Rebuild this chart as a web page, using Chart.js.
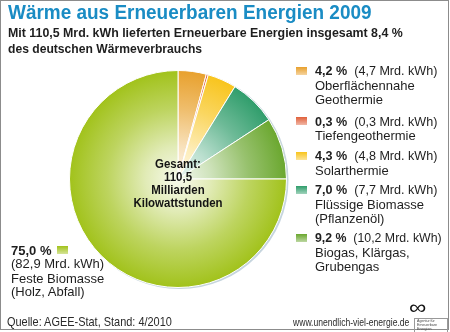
<!DOCTYPE html>
<html lang="de">
<head>
<meta charset="utf-8">
<title>Wärme aus Erneuerbaren Energien 2009</title>
<script src="https://cdn.jsdelivr.net/npm/chart.js@4"></script>
<style>
  body { margin: 0; background: #fff; }
  #wrap { position: relative; width: 450px; height: 332px; overflow: hidden;
          font-family: "Liberation Sans", Arial, sans-serif; color: #1e1e1e; }
  #frame { position: absolute; left: 0; top: 0; width: 447px; height: 328px; border: 1px solid #8c8c8c; }
  #box { position: absolute; left: 0; top: 0; width: 450px; height: 332px; }
  .t { position: absolute; white-space: nowrap; transform-origin: 0 50%; }
  .sq { position: absolute; width: 11px; height: 8px; }
  b { font-weight: bold; }
</style>
</head>
<body>
<div id="wrap">
  <div id="box"><canvas id="pie"></canvas></div>
  <div id="frame"></div>
  <div id="txt"></div>
</div>
<script>
// Anteile am Wärmeverbrauch aus Erneuerbaren 2009 (Prozent und Mrd. kWh)
var shares = [4.2, 0.3, 4.3, 7.0, 9.2, 75.0];
var amounts = [4.7, 0.3, 4.8, 7.7, 10.2, 82.9];
var sources = [
  ["Oberflächennahe", "Geothermie"],
  ["Tiefengeothermie"],
  ["Solarthermie"],
  ["Flüssige Biomasse", "(Pflanzenöl)"],
  ["Biogas, Klärgas,", "Grubengas"],
  ["Feste Biomasse", "(Holz, Abfall)"]
];
var totalLines = ["Gesamt:", "110,5", "Milliarden", "Kilowattstunden"];

var sliceColors = ["#e8a02c", "#e0603a", "#f8c41c", "#2f9d6b", "#6aa72e", "#a1c21a"];

function de(n) { return n.toFixed(1).replace(".", ","); }

function mixWhite(hex, f) {
  var r = parseInt(hex.substr(1, 2), 16), g = parseInt(hex.substr(3, 2), 16), b = parseInt(hex.substr(5, 2), 16);
  r = Math.round(r + (255 - r) * f); g = Math.round(g + (255 - g) * f); b = Math.round(b + (255 - b) * f);
  return "rgb(" + r + "," + g + "," + b + ")";
}

var txt = document.getElementById("txt");

function addText(html, x, cy, size, opts) {
  opts = opts || {};
  var lh = opts.lh || size;
  var el = document.createElement("div");
  el.className = "t";
  el.innerHTML = html;
  el.style.left = x + "px";
  el.style.top = (cy - lh / 2) + "px";
  el.style.fontSize = size + "px";
  el.style.lineHeight = lh + "px";
  if (opts.bold) el.style.fontWeight = "bold";
  if (opts.color) el.style.color = opts.color;
  txt.appendChild(el);
  if (opts.w) el.style.transform = "scaleX(" + (opts.w / el.offsetWidth) + ")";
  return el;
}

function addSquare(i, x, cy) {
  var sq = document.createElement("div");
  sq.className = "sq";
  sq.style.left = x + "px";
  sq.style.top = (cy - 4) + "px";
  sq.style.background = "linear-gradient(to bottom, " + sliceColors[i] + ", " + mixWhite(sliceColors[i], 0.55) + ")";
  txt.appendChild(sq);
}

// Titel und Untertitel
addText("Wärme aus Erneuerbaren Energien 2009", 8, 11.8, 20, { bold: true, color: "#1a8cc4", w: 364 });
addText("Mit 110,5 Mrd. kWh lieferten Erneuerbare Energien insgesamt 8,4 %", 8, 33.6, 12.5, { bold: true, w: 395 });
addText("des deutschen Wärmeverbrauchs", 8, 49.3, 12.5, { bold: true, w: 194 });

// Legende rechts
var entryY = [70.5, 121, 155.5, 189.5, 237.5];
for (var i = 0; i < 5; i++) {
  addSquare(i, 296, entryY[i]);
  addText("<b>" + de(shares[i]) + " %</b>&nbsp; (" + de(amounts[i]) + " Mrd. kWh)", 315, entryY[i], 13, { w: 122 + (amounts[i] >= 10 ? 5 : 0) });
  for (var k = 0; k < sources[i].length; k++) {
    addText(sources[i][k], 315, entryY[i] + 14.5 * (k + 1), 13);
  }
}

// Beschriftung Feste Biomasse links unten
addText(de(shares[5]) + " %", 11, 250.5, 13, { bold: true });
addSquare(5, 57, 249.5);
addText("(" + de(amounts[5]) + " Mrd. kWh)", 11, 263.5, 13);
addText(sources[5][0], 11, 278, 13);
addText(sources[5][1], 11, 291.5, 13);

// Fußzeile
addText("Quelle: AGEE-Stat, Stand: 4/2010", 7, 321.7, 13, { color: "#2a2a2a", w: 165 });
addText("www.unendlich-viel-energie.de", 293, 322.7, 10.5, { color: "#2a2a2a", w: 116 });
addText("∞", 409, 307, 20, { color: "#111", w: 17 });
var logo = addText("Agentur für<br>Erneuerbare<br>Energien", 414, 320, 3.6, { lh: 3.8, color: "#444" });
logo.style.border = "1px solid #999";
logo.style.padding = "1px 10px 1px 2px";

// Gesamtsumme in der Kreismitte
var cx = 178, mid = 184;
var center = document.createElement("div");
center.className = "t";
center.style.left = (cx - 100) + "px";
center.style.width = "200px";
center.style.textAlign = "center";
center.style.fontSize = "13.5px";
center.style.lineHeight = "12.8px";
center.style.fontWeight = "bold";
center.style.color = "#141414";
center.style.top = (mid - 2 * 12.8) + "px";
center.style.transformOrigin = "50% 50%";
center.innerHTML = totalLines.join("<br>");
txt.appendChild(center);
var probe = document.createElement("span");
probe.style.cssText = "position:absolute;visibility:hidden;font:bold 13.5px 'Liberation Sans';white-space:nowrap";
probe.textContent = totalLines[3];
txt.appendChild(probe);
center.style.transform = "scaleX(" + (89 / probe.offsetWidth) + ")";

// leichter Schatten unter dem Kreis
var rimShadow = {
  id: "rimShadow",
  beforeDatasetsDraw: function(chart) {
    var a = chart.chartArea, c = chart.ctx;
    var x = (a.left + a.right) / 2, y = (a.top + a.bottom) / 2, r = Math.min(a.width, a.height) / 2;
    c.save();
    c.beginPath();
    c.arc(x + 1.5, y + 1, r, 0, Math.PI * 2);
    c.fillStyle = "#c6d5de";
    c.fill();
    c.restore();
  }
};

function sliceFill(ctx) {
  var col = sliceColors[ctx.dataIndex];
  var a = ctx.chart.chartArea;
  if (!a) return col;
  var x = (a.left + a.right) / 2, y = (a.top + a.bottom) / 2, r = Math.min(a.width, a.height) / 2;
  var g = ctx.chart.ctx.createRadialGradient(x, y, 0, x, y, r);
  g.addColorStop(0, mixWhite(col, 0.92));
  g.addColorStop(0.3, mixWhite(col, 0.68));
  g.addColorStop(0.65, mixWhite(col, 0.3));
  g.addColorStop(1, col);
  return g;
}

new Chart(document.getElementById("pie"), {
  type: "pie",
  data: {
    labels: sources.map(function(s) { return s.join(" "); }),
    datasets: [{
      data: shares,
      backgroundColor: sliceFill,
      borderColor: "#ffffff",
      borderWidth: 1
    }]
  },
  options: {
    responsive: true,
    maintainAspectRatio: false,
    animation: false,
    events: [],
    layout: { padding: { left: 69, top: 70, right: 163, bottom: 44 } },
    plugins: {
      legend: { display: false },
      title: { display: false },
      tooltip: { enabled: false }
    }
  },
  plugins: [rimShadow]
});
</script>
</body>
</html>
